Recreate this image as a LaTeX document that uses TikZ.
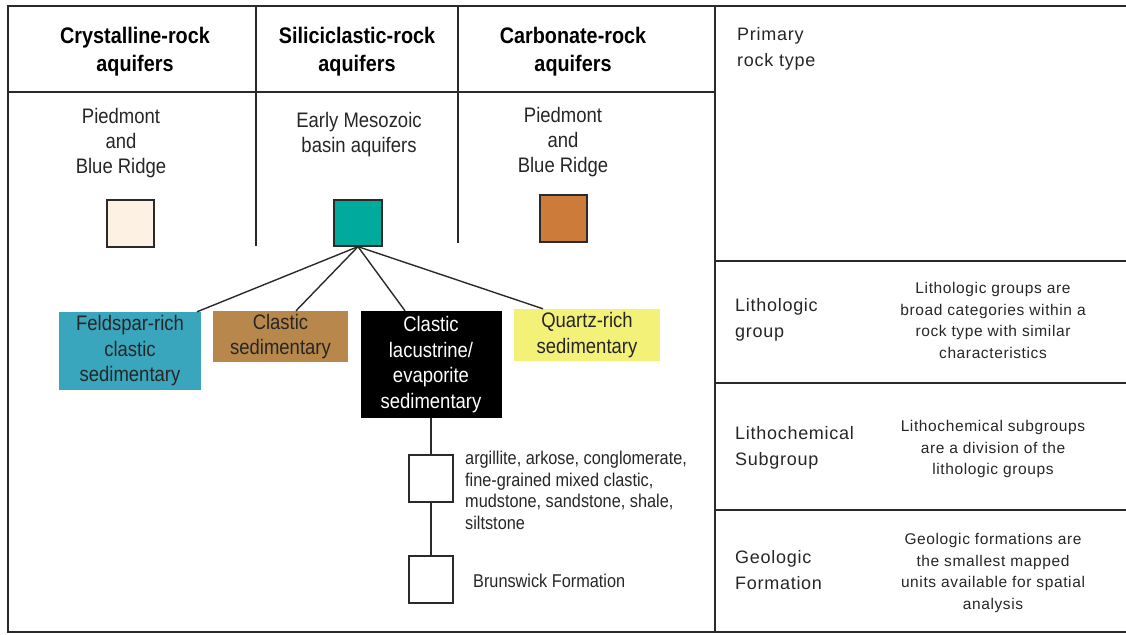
\documentclass[tikz,border=0pt]{standalone}
\usepackage{fontspec}
\setmainfont{Liberation Sans}
\newfontfamily\cnd{Liberation Sans}[FakeStretch=0.88]
\newfontfamily\wde{Liberation Sans}[LetterSpace=4]
\usetikzlibrary{calc}
\definecolor{cream}{HTML}{FDF1E3}
\definecolor{tealsq}{HTML}{00AA9C}
\definecolor{orangesq}{HTML}{CC7B3B}
\definecolor{feldc}{HTML}{3AA6BD}
\definecolor{clastc}{HTML}{B8874B}
\definecolor{quartzc}{HTML}{F4F179}
\definecolor{linec}{HTML}{2A2A2A}
\begin{document}
\begin{tikzpicture}[x=1pt,y=-1pt,
  frame/.style={draw=linec, line width=2pt},
  rule/.style={draw=linec, line width=1.4pt},
  head/.style={font=\cnd\bfseries\fontsize{22.5}{28}\selectfont, align=center, inner sep=0},
  sub/.style={font=\cnd\fontsize{21}{25}\selectfont, align=center, inner sep=0, text=black!85},
  swatch/.style={draw=linec, line width=1.3pt, minimum width=47pt, minimum height=47pt, inner sep=0},
  grp/.style={font=\cnd\fontsize{21}{25.5}\selectfont, align=center, inner sep=0, text=black!85},
  small/.style={font=\cnd\fontsize{18.5}{21.5}\selectfont, align=left, inner sep=0, text=black!85},
  lvl/.style={font=\wde\fontsize{18}{26}\selectfont, align=left, inner sep=0, anchor=west, text=black!85},
  desc/.style={font=\wde\fontsize{15.5}{21.5}\selectfont, align=center, inner sep=0, text=black!85},
  link/.style={draw=linec, line width=1.4pt}]
\useasboundingbox (0,0) rectangle (1126,634);
% frame and rules
\draw[frame] (1126,6) -- (8,6) -- (8,632) -- (1126,632);
\draw[frame] (715,6) -- (715,632);
\draw[rule] (8,92) -- (715,92);
\draw[rule] (256,6) -- (256,246);
\draw[rule] (458,6) -- (458,243);
\draw[rule] (715,261) -- (1126,261);
\draw[rule] (715,383) -- (1126,383);
\draw[rule] (715,510) -- (1126,510);
% headings
\node[head] (h1) at (135,52) {Crystalline-rock\\aquifers};
\node[head] (h2) at (357,52) {Siliciclastic-rock\\aquifers};
\node[head] (h3) at (573,52) {Carbonate-rock\\aquifers};
% subtitles
\node[sub] (s1) at (121,143) {Piedmont\\and\\Blue Ridge};
\node[sub] (s2) at (359,135) {Early Mesozoic\\basin aquifers};
\node[sub] (s3) at (563,142) {Piedmont\\and\\Blue Ridge};
% swatches
\node[swatch, fill=cream] (q1) at (130.5,223.5) {};
\node[swatch, fill=tealsq, minimum width=48pt, minimum height=46pt] (q2) at (358,223) {};
\node[swatch, fill=orangesq] (q3) at (563.5,218.5) {};
% lithologic groups
\node[grp, fill=feldc, minimum width=142pt, minimum height=78pt] (g1) at (130,351) {Feldspar-rich\\clastic\\sedimentary};
\node[grp, fill=clastc, minimum width=135pt, minimum height=51pt] (g2) at (280.5,336.5) {Clastic\\sedimentary};
\node[grp, fill=black, text=white, minimum width=141pt, minimum height=107pt] (g3) at (431,364.5) {Clastic\\lacustrine/\\evaporite\\sedimentary};
\node[grp, fill=quartzc, minimum width=146pt, minimum height=52pt] (g4) at (587,335) {Quartz-rich\\sedimentary};
\draw[link] (q2.south) -- ([xshift=67pt]g1.north);
\draw[link] (q2.south) -- ([xshift=15.5pt]g2.north);
\draw[link] (q2.south) -- ([xshift=-26pt]g3.north);
\draw[link] (q2.south) -- ([xshift=-44pt]g4.north);
% subgroup and formation
\node[swatch, fill=white, minimum width=44pt] (b1) at (431,478.5) {};
\node[swatch, fill=white, minimum width=44pt] (b2) at (431,579.5) {};
\draw[link] (g3.south) -- (b1.north);
\draw[link] (b1.south) -- (b2.north);
\node[small, anchor=north west] (t1) at (465,451) {argillite, arkose, conglomerate,\\fine-grained mixed clastic,\\mudstone, sandstone, shale,\\siltstone};
\node[small, anchor=west] (t2) at (473,581) {Brunswick Formation};
% right panel
\node[lvl] (l1) at (737,49) {Primary\\rock type};
\node[lvl] (l2) at (735,320) {Lithologic\\group};
\node[lvl] (l3) at (735,448) {Lithochemical\\Subgroup};
\node[lvl] (l4) at (735,570.5) {Geologic\\Formation};
\node[desc] (d2) at (993,320.5) {Lithologic groups are\\broad categories within a\\rock type with similar\\characteristics};
\node[desc] (d3) at (993,449) {Lithochemical subgroups\\are a division of the\\lithologic groups};
\node[desc] (d4) at (993,573) {Geologic formations are\\the smallest mapped\\units available for spatial\\analysis};
\end{tikzpicture}
\end{document}
